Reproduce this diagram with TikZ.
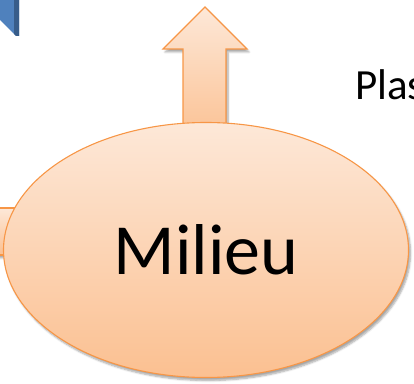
\documentclass[tikz,border=0pt]{standalone}
\usepackage{fontspec}
\setmainfont{Carlito}
\usetikzlibrary{shapes.geometric,shadows.blur}
\definecolor{orEdge}{HTML}{F79646}
\definecolor{orTop}{HTML}{FDE8D8}
\definecolor{orBot}{HTML}{FBC091}
\definecolor{blueFill}{HTML}{4F81BD}
\definecolor{blueDark}{HTML}{385D8A}
\tikzset{
  orshape/.style={draw=orEdge, line width=1.1pt, top color=orTop, bottom color=orBot,
    blur shadow={shadow xshift=2pt, shadow yshift=-3pt, shadow blur steps=6, shadow opacity=35}},
}
\begin{document}
\begin{tikzpicture}[x=1pt,y=1pt]
\useasboundingbox (0,0) rectangle (414,383);
% blue fragment top-left
\fill[blueFill] (0,383) -- (19,383) -- (19,347) -- (16,347) -- (0,363) -- cycle;
\fill[blueDark] (14,383) -- (19,383) -- (19,347) -- (16,347) -- (14,349) -- cycle;
% left arrow shaft (hidden behind ellipse)
\path[orshape] (-10,128) rectangle (40,175);
% up arrow
\path[orshape] (183,240) -- (183,334) -- (163,334) -- (205,376) -- (247,334) -- (226,334) -- (226,240) -- cycle;
% ellipse
\node[orshape, ellipse, minimum width=405, minimum height=255, inner sep=0pt,
      font=\fontsize{72}{80}\selectfont] (milieu) at (206,133) {Milieu};
% partial text
\node[anchor=base west, inner sep=0pt, font=\fontsize{43}{50}\selectfont] (plas) at (355,283) {Plas};
\end{tikzpicture}
\end{document}
